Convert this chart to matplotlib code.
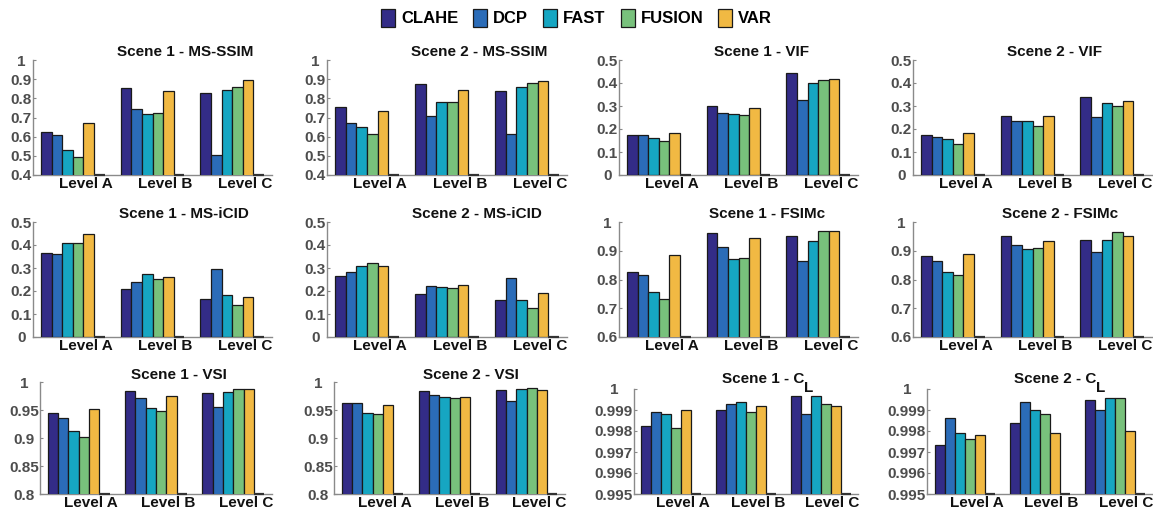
import numpy as np
import matplotlib
matplotlib.use('Agg')
import matplotlib.pyplot as plt
from matplotlib.patches import Patch

plt.rcParams['font.family'] = ['Liberation Sans', 'DejaVu Sans']
plt.rcParams['font.weight'] = 'bold'

methods = ['CLAHE', 'DCP', 'FAST', 'FUSION', 'VAR']
levels = ['Level A', 'Level B', 'Level C']
colors = ['#332c87', '#2b6cb8', '#16a6c2', '#78c17c', '#f1b943']

# values: rows = levels (A, B, C), columns = methods
s1_msssim = [[0.622, 0.609, 0.531, 0.496, 0.670],
             [0.855, 0.742, 0.716, 0.723, 0.836],
             [0.826, 0.505, 0.843, 0.861, 0.894]]
s2_msssim = [[0.755, 0.670, 0.652, 0.612, 0.736],
             [0.877, 0.706, 0.779, 0.783, 0.845],
             [0.840, 0.612, 0.859, 0.882, 0.892]]
s1_vif = [[0.175, 0.172, 0.162, 0.150, 0.182],
          [0.299, 0.271, 0.265, 0.262, 0.293],
          [0.442, 0.328, 0.399, 0.411, 0.417]]
s2_vif = [[0.174, 0.165, 0.158, 0.136, 0.181],
          [0.256, 0.234, 0.234, 0.211, 0.256],
          [0.338, 0.253, 0.315, 0.302, 0.323]]
s1_icid = [[0.367, 0.361, 0.407, 0.410, 0.446],
           [0.207, 0.237, 0.272, 0.253, 0.260],
           [0.167, 0.295, 0.184, 0.138, 0.174]]
s2_icid = [[0.267, 0.281, 0.307, 0.320, 0.309],
           [0.187, 0.222, 0.217, 0.213, 0.226],
           [0.162, 0.258, 0.159, 0.125, 0.193]]
s1_fsimc = [[0.826, 0.816, 0.755, 0.733, 0.886],
            [0.962, 0.913, 0.870, 0.875, 0.944],
            [0.953, 0.863, 0.935, 0.968, 0.968]]
s2_fsimc = [[0.883, 0.864, 0.827, 0.815, 0.889],
            [0.951, 0.919, 0.905, 0.910, 0.934],
            [0.939, 0.896, 0.938, 0.965, 0.953]]
s1_vsi = [[0.945, 0.936, 0.912, 0.902, 0.952],
          [0.984, 0.972, 0.953, 0.949, 0.975],
          [0.981, 0.955, 0.982, 0.988, 0.987]]
s2_vsi = [[0.962, 0.962, 0.945, 0.943, 0.959],
          [0.984, 0.977, 0.973, 0.972, 0.974],
          [0.986, 0.966, 0.987, 0.990, 0.985]]
s1_cl = [[0.99825, 0.99892, 0.99879, 0.99812, 0.99899],
         [0.99900, 0.99928, 0.99939, 0.99889, 0.99919],
         [0.99969, 0.99879, 0.99969, 0.99928, 0.99919]]
s2_cl = [[0.99734, 0.99861, 0.99791, 0.99762, 0.99782],
         [0.99840, 0.99938, 0.99900, 0.99879, 0.99791],
         [0.99949, 0.99900, 0.99958, 0.99958, 0.99801]]

titles = ['Scene 1 - MS-SSIM', 'Scene 2 - MS-SSIM', 'Scene 1 - VIF', 'Scene 2 - VIF',
          'Scene 1 - MS-iCID', 'Scene 2 - MS-iCID', 'Scene 1 - FSIMc', 'Scene 2 - FSIMc',
          'Scene 1 - VSI', 'Scene 2 - VSI', 'Scene 1 - C', 'Scene 2 - C']
subscripts = ['', '', '', '', '', '', '', '', '', '', 'L', 'L']
panels = [s1_msssim, s2_msssim, s1_vif, s2_vif, s1_icid, s2_icid,
          s1_fsimc, s2_fsimc, s1_vsi, s2_vsi, s1_cl, s2_cl]

tick_sets = [
    [0.4, 0.5, 0.6, 0.7, 0.8, 0.9, 1.0], [0.4, 0.5, 0.6, 0.7, 0.8, 0.9, 1.0],
    [0, 0.1, 0.2, 0.3, 0.4, 0.5], [0, 0.1, 0.2, 0.3, 0.4, 0.5],
    [0, 0.1, 0.2, 0.3, 0.4, 0.5], [0, 0.1, 0.2, 0.3, 0.4, 0.5],
    [0.6, 0.7, 0.8, 0.9, 1.0], [0.6, 0.7, 0.8, 0.9, 1.0],
    [0.8, 0.85, 0.9, 0.95, 1.0], [0.8, 0.85, 0.9, 0.95, 1.0],
    [0.995, 0.996, 0.997, 0.998, 0.999, 1.0], [0.995, 0.996, 0.997, 0.998, 0.999, 1.0]]

# layout (pixels): left, right, top, bottom
W, H = 1153, 509
boxes = [(33, 272, 60, 175), (327, 567, 60, 175), (619, 858, 60, 175), (913, 1152, 60, 175),
         (33, 272, 222, 337), (327, 567, 222, 337), (619, 858, 222, 337), (913, 1152, 222, 337),
         (40, 272, 382, 494), (334, 565, 382, 494), (634, 858, 389, 494), (927, 1152, 389, 494)]
title_x = [0.636, 0.633, 0.598, 0.594, 0.632, 0.625, 0.62, 0.615, 0.60, 0.593, 0.576, 0.57]
title_dy = [4, 4, 4, 4, 4, 4, 4, 4, 3, 3, 6, 6]

fig = plt.figure(figsize=(W / 100, H / 100), dpi=100)

gray = '#4d4d4d'
nslots = 6
gw = 0.8
slot = gw / nslots
xg = np.arange(1, len(levels) + 1)
axes = []
for k, data in enumerate(panels):
    l, r, t, b = boxes[k]
    ax = fig.add_axes([l / W, 1 - b / H, (r - l) / W, (b - t) / H])
    axes.append(ax)
    arr = np.array(data)
    for i, m in enumerate(methods):
        xs = xg - gw / 2 + slot * (i + 0.5)
        ax.bar(xs, arr[:, i], width=slot, color=colors[i], edgecolor='#1a1a1a', linewidth=0.9, zorder=3)
    ticks = tick_sets[k]
    ax.set_ylim(ticks[0], ticks[-1])
    ax.set_xlim(0.5, 3.5)
    # dark baseline mark in the empty sixth slot of each group
    x6 = xg - gw / 2 + slot * 5.5
    ax.hlines(np.full(len(xg), ticks[0]), x6 - slot / 2, x6 + slot / 2,
              colors='#333333', linewidth=1.6, zorder=4, clip_on=False)
    ax.set_yticks(ticks)
    ax.set_yticklabels(['%g' % v for v in ticks], fontsize=11, fontweight='bold', color=gray, ha='center')
    ax.set_xticks(xg + 0.16)
    ax.set_xticklabels(levels, fontsize=11, fontweight='bold', color='#111111')
    ax.tick_params(axis='x', length=0, pad=1.5)
    ax.tick_params(axis='y', length=2, direction='in', color='#888888')
    for s in ['top', 'right']:
        ax.spines[s].set_visible(False)
    for s in ['left', 'bottom']:
        ax.spines[s].set_color('#8a8a8a')
        ax.spines[s].set_linewidth(1.0)
    ttl = ax.annotate(titles[k], xy=(title_x[k], 1), xycoords='axes fraction',
                      xytext=(0, title_dy[k]), textcoords='offset pixels',
                      ha='center', va='baseline', fontsize=11, fontweight='bold', color='#111111')
    if subscripts[k]:
        ax.annotate(subscripts[k], xy=(1, 0), xycoords=ttl, xytext=(0, -9),
                    textcoords='offset pixels', ha='left', va='bottom',
                    fontsize=11, fontweight='bold', color='#111111', annotation_clip=False)

# center y tick labels next to the axis
fig.canvas.draw()
renderer = fig.canvas.get_renderer()
for ax in axes:
    wmax = max(lb.get_window_extent(renderer).width for lb in ax.get_yticklabels())
    ax.tick_params(axis='y', pad=(wmax / 2 + 1) * 72 / 100)

handles = [Patch(facecolor=c, edgecolor='#1a1a1a', linewidth=0.9) for c in colors]
fig.legend(handles, methods, loc='upper center', bbox_to_anchor=(0.5, 1.012), ncol=5,
           frameon=False, handlelength=0.85, handleheight=1.25, handletextpad=0.35,
           columnspacing=0.9, prop={'family': 'Liberation Sans', 'weight': 'bold', 'size': 12})

fig.savefig('out.png', dpi=100)
